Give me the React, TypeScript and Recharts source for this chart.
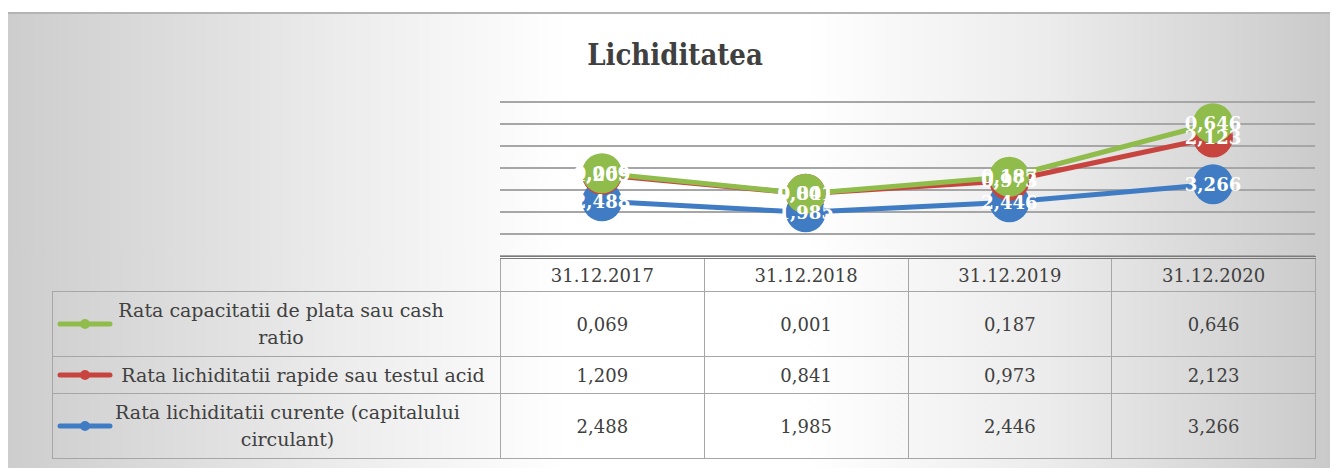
import { LineChart, Line, XAxis, YAxis, CartesianGrid, LabelList } from 'recharts';

const categories = ['31.12.2017', '31.12.2018', '31.12.2019', '31.12.2020'];
const cashRatio = [0.069, 0.001, 0.187, 0.646];
const acidTest = [1.209, 0.841, 0.973, 2.123];
const currentRatio = [2.488, 1.985, 2.446, 3.266];
const yTicks = [0, 1, 2, 3, 4, 5, 6, 7];

const series = [
  { key: 'cash', name: 'Rata capacitatii de plata sau cash ratio', values: cashRatio, color: '#8fbc4a' },
  { key: 'acid', name: 'Rata lichiditatii rapide sau testul acid', values: acidTest, color: '#c8453f' },
  { key: 'current', name: 'Rata lichiditatii curente (capitalului circulant)', values: currentRatio, color: '#3f7cc4' },
];

// stacked line chart: each line sits on top of the ones below it
const data = categories.map((c, i) => ({
  date: c,
  current: currentRatio[i],
  acid: acidTest[i],
  cash: cashRatio[i],
  currentTop: currentRatio[i],
  acidTop: currentRatio[i] + acidTest[i],
  cashTop: currentRatio[i] + acidTest[i] + cashRatio[i],
}));

const fmt = (v: number) => v.toFixed(3).replace('.', ',');

const W = 1330;
const H = 456;
const textColor = '#404040';
const serif = '"DejaVu Serif", serif';

function PointLabel(props: any) {
  const { x, y, value } = props;
  if (x == null || y == null) return null;
  return (
    <text
      x={x}
      y={y}
      textAnchor="middle"
      dominantBaseline="central"
      fill="#fff"
      fontFamily={serif}
      fontWeight="bold"
      fontSize={18}
    >
      {fmt(Number(value))}
    </text>
  );
}

function LegendIcon({ color }: { color: string }) {
  return (
    <svg width={56} height={12} style={{ flex: 'none' }}>
      <line x1={3} y1={6} x2={53} y2={6} stroke={color} strokeWidth={5} strokeLinecap="round" />
      <circle cx={28} cy={6} r={5} fill={color} />
    </svg>
  );
}

const rowHeights = [65, 37, 65];
const textWidths = [332, 376, 345];

export default function App() {
  const cell: React.CSSProperties = {
    border: '1px solid #a6a6a6',
    textAlign: 'center',
    verticalAlign: 'middle',
    padding: 0,
    color: textColor,
    fontSize: 18,
  };
  const stackOrder = [series[2], series[1], series[0]];
  return (
    <div
      style={{
        position: 'relative',
        width: W,
        height: H,
        marginTop: 4,
        borderTop: '2px solid #b4b4b4',
        boxSizing: 'border-box',
        background:
          'linear-gradient(to right, #cdcdcd 0%, #ececec 25%, #ffffff 42%, #ffffff 60%, #ececec 78%, #c9c9c9 100%)',
        fontFamily: serif,
      }}
    >
      <div
        style={{
          position: 'absolute',
          left: 0,
          width: W,
          top: 24,
          textAlign: 'center',
          fontFamily: '"DejaVu Serif Condensed", "DejaVu Serif", serif',
          fontWeight: 'bold',
          fontSize: 29,
          color: textColor,
          transform: 'translateX(2px)',
        }}
      >
        Lichiditatea
      </div>
      <LineChart
        width={W}
        height={H}
        data={data}
        margin={{ top: 90, right: 23, bottom: 212, left: 492 }}
        style={{ position: 'absolute', left: 0, top: -2 }}
      >
        <CartesianGrid horizontal vertical={false} stroke="#a6a6a6" strokeWidth={2} />
        <XAxis dataKey="date" hide padding={{ left: 102, right: 102 }} />
        <YAxis hide domain={[0, 7]} ticks={yTicks} interval={0} />
        {stackOrder.map((s) => (
          <Line
            key={s.key}
            type="linear"
            dataKey={`${s.key}Top`}
            stroke={s.color}
            strokeWidth={5}
            dot={{ r: 20, fill: s.color, stroke: s.color, strokeWidth: 0 }}
            activeDot={false}
            isAnimationActive={false}
          >
            <LabelList dataKey={s.key} content={<PointLabel />} />
          </Line>
        ))}
      </LineChart>
      <table
        style={{
          position: 'absolute',
          left: 44,
          top: 242,
          borderCollapse: 'collapse',
          tableLayout: 'fixed',
          width: 1263,
          fontFamily: serif,
        }}
      >
        <colgroup>
          <col style={{ width: 448 }} />
          {categories.map((c) => (
            <col key={c} style={{ width: 203.75 }} />
          ))}
        </colgroup>
        <tbody>
          <tr style={{ height: 34 }}>
            <td style={{ border: 'none', borderBottom: '1px solid #a6a6a6' }} />
            {categories.map((c) => (
              <td key={c} style={{ ...cell, borderTop: '3px double #7a7a7a' }}>
                {c}
              </td>
            ))}
          </tr>
          {series.map((s, i) => (
            <tr key={s.key} style={{ height: rowHeights[i] }}>
              <td style={{ ...cell, textAlign: 'left' }}>
                <div style={{ display: 'flex', alignItems: 'center', paddingLeft: 4 }}>
                  <LegendIcon color={s.color} />
                  <span
                    style={{
                      display: 'inline-block',
                      width: textWidths[i],
                      textAlign: 'center',
                      marginLeft: 2,
                      fontSize: 19,
                      lineHeight: '27px',
                    }}
                  >
                    {s.name}
                  </span>
                </div>
              </td>
              {s.values.map((v, j) => (
                <td key={j} style={cell}>
                  {fmt(v)}
                </td>
              ))}
            </tr>
          ))}
        </tbody>
      </table>
    </div>
  );
}
